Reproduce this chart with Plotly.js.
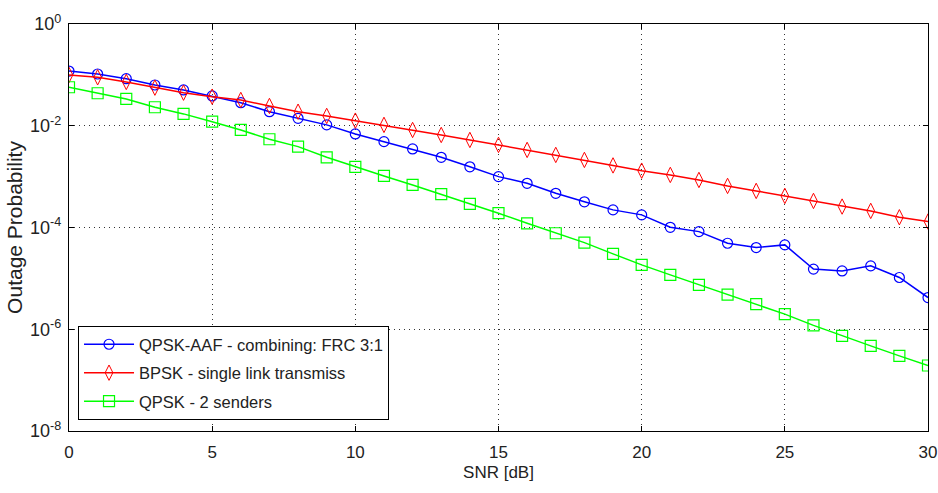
<!DOCTYPE html>
<html>
<head>
<meta charset="utf-8">
<script src="https://cdn.plot.ly/plotly-3.0.1.min.js"></script>
<style>html,body{margin:0;padding:0;background:#fff;}#chart{width:938px;height:493px;}</style>
</head>
<body>
<div id="chart"></div>
<script>
const snr = [0,1,2,3,4,5,6,7,8,9,10,11,12,13,14,15,16,17,18,19,20,21,22,23,24,25,26,27,28,29,30];
const qpskAAF = [0.119,0.104,0.0842,0.0633,0.0505,0.0385,0.0284,0.0189,0.0140,0.0104,0.0069,0.00487,0.0035,0.0024,0.00156,0.00100,0.00074,0.00047,0.00032,0.000222,0.000177,0.000101,8.3e-5,4.9e-5,4.03e-5,4.55e-5,1.52e-5,1.40e-5,1.76e-5,1.04e-5,4.2e-6];
const bpskSingle = [0.0995,0.0897,0.0726,0.0561,0.0447,0.0373,0.0321,0.0245,0.0189,0.0156,0.0126,0.0104,0.00826,0.00659,0.00526,0.0042,0.00335,0.00267,0.00213,0.00166,0.00131,0.00108,0.00086,0.000657,0.000524,0.000418,0.000333,0.000258,0.000212,0.000159,0.000131];
const qpsk2 = [0.0571,0.0435,0.0336,0.0231,0.0171,0.0120,0.00826,0.00543,0.00389,0.0024,0.00156,0.00103,0.000687,0.000451,0.000291,0.000191,0.000121,7.7e-5,5.05e-5,3.03e-5,1.84e-5,1.17e-5,7.45e-6,4.81e-6,3.11e-6,1.98e-6,1.19e-6,7.4e-7,4.72e-7,3.0e-7,1.94e-7];
const seriesNames = ['QPSK-AAF - combining: FRC 3:1','BPSK - single link transmiss','QPSK - 2 senders'];
const yTickVals = [1e-8,1e-6,1e-4,1e-2,1];
const yTickText = ['10<sup>-8</sup>','10<sup>-6</sup>','10<sup>-4</sup>','10<sup>-2</sup>','10<sup>0</sup>'];
const xTickVals = [0,5,10,15,20,25,30];

const fam = 'Arial, "Liberation Sans", sans-serif';
const traces = [
  {x: snr, y: qpskAAF, name: seriesNames[0], legendgroup: 'a', mode: 'lines+markers',
   line: {color: '#0000ff', width: 1.5},
   marker: {symbol: 'circle-open', size: 10, color: '#0000ff', line: {width: 1.2}}},
  {x: snr, y: bpskSingle, name: seriesNames[1], legendgroup: 'b', mode: 'lines+markers',
   line: {color: '#ff0000', width: 1.5},
   marker: {symbol: 'diamond-tall-open', size: 11, color: '#ff0000', line: {width: 1}}},
  {x: snr, y: qpsk2, name: seriesNames[2], legendgroup: 'c', mode: 'lines+markers',
   line: {color: '#00ff00', width: 1.5},
   marker: {symbol: 'square-open', size: 11, color: '#00ff00', line: {width: 1.2}}}
];
const layout = {
  width: 938, height: 493,
  margin: {l: 69, r: 10, t: 24, b: 62, pad: 0},
  paper_bgcolor: '#ffffff', plot_bgcolor: '#ffffff',
  font: {family: fam, size: 17, color: '#222'},
  showlegend: true,
  legend: {x: 0.0105, y: 0.027, xanchor: 'left', yanchor: 'bottom',
           bgcolor: '#ffffff', bordercolor: '#000', borderwidth: 1,
           font: {family: fam, size: 16.5, color: '#222'},
           itemwidth: 50, traceorder: 'grouped', tracegroupgap: 4},
  xaxis: {range: [0, 30], tickvals: xTickVals, ticks: 'inside', ticklen: 5, tickcolor: '#000',
          showline: true, linecolor: '#000', linewidth: 1.2, mirror: 'ticks',
          showgrid: true, gridcolor: '#333', griddash: '1px,4px', gridwidth: 1, zeroline: false,
          tickfont: {family: fam, size: 17}, ticklabelstandoff: 5, ticklabeloverflow: 'allow',
          title: {text: 'SNR [dB]', font: {family: fam, size: 17}, standoff: 5}},
  yaxis: {type: 'log', range: [-8, 0], tickvals: yTickVals, ticktext: yTickText,
          ticks: 'inside', ticklen: 5, tickcolor: '#000',
          showline: true, linecolor: '#000', linewidth: 1.2, mirror: 'ticks',
          showgrid: true, gridcolor: '#333', griddash: '1px,4px', gridwidth: 1, zeroline: false,
          tickfont: {family: fam, size: 18}, ticklabelstandoff: 3, ticklabeloverflow: 'allow',
          title: {text: 'Outage Probability', font: {family: fam, size: 21}, standoff: 1}}
};
Plotly.newPlot('chart', traces, layout, {displayModeBar: false, staticPlot: true});
</script>
</body>
</html>
